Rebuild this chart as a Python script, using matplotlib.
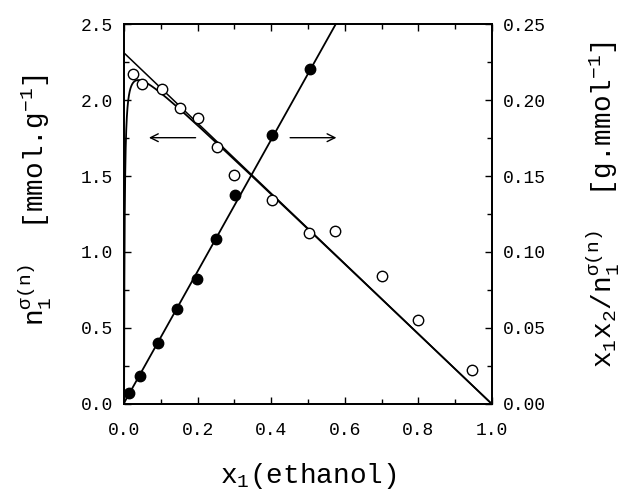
import numpy as np
import matplotlib
matplotlib.use("Agg")
import matplotlib.pyplot as plt

# ---- data ----
x_open = [0.024, 0.048, 0.102, 0.152, 0.202, 0.252, 0.300, 0.403, 0.503, 0.573, 0.700, 0.800, 0.947]
n_open = [2.17, 2.105, 2.07, 1.95, 1.88, 1.69, 1.507, 1.342, 1.127, 1.138, 0.842, 0.553, 0.224]

x_fill = [0.0136, 0.042, 0.093, 0.145, 0.197, 0.249, 0.302, 0.403, 0.505]
y_fill = [0.007, 0.0186, 0.0403, 0.0623, 0.0822, 0.1086, 0.1375, 0.177, 0.2204]

# linear fit of x1*x2/n vs x1 (intercept, slope)
fit_intercept = 0.0007
fit_slope = 0.433

xticks = [0.0, 0.2, 0.4, 0.6, 0.8, 1.0]
yticks_left = [0.0, 0.5, 1.0, 1.5, 2.0, 2.5]
yticks_right = [0.00, 0.05, 0.10, 0.15, 0.20, 0.25]

FONT = "Liberation Mono"
plt.rcParams["font.family"] = [FONT, "DejaVu Sans"]
plt.rcParams["mathtext.fontset"] = "custom"
plt.rcParams["mathtext.rm"] = FONT
plt.rcParams["mathtext.it"] = FONT
plt.rcParams["mathtext.bf"] = FONT
plt.rcParams["mathtext.sf"] = FONT
plt.rcParams["mathtext.tt"] = FONT
plt.rcParams["mathtext.cal"] = FONT
plt.rcParams["mathtext.fallback"] = "cm"

fig = plt.figure(figsize=(6.33, 4.96), dpi=100)
ax = fig.add_axes([0.196, 0.1855, 0.581, 0.7661])
ax2 = ax.twinx()

lw = 1.3
# model curves on left axis
xs = np.concatenate([[0.0], np.geomspace(1e-5, 1.0, 3000)])
n_model = xs * (1 - xs) / (fit_intercept + fit_slope * xs)
ax.plot(xs, n_model, color="black", lw=lw)
xl = np.array([0.0, 1.0])
ax.plot(xl, (1 - xl) / fit_slope, color="black", lw=1.1)

ax.plot(x_open, n_open, linestyle="none", marker="o", markersize=7.5,
        markerfacecolor="white", markeredgecolor="black", markeredgewidth=1.0)

# right axis linear plot
xr = np.array([0.0, 1.0])
ax2.plot(xr, fit_intercept + fit_slope * xr, color="black", lw=lw)
ax2.plot(x_fill, y_fill, linestyle="none", marker="o", markersize=7.5,
         markerfacecolor="black", markeredgecolor="black")

# arrows
ax.annotate("", xy=(0.06, 1.752), xytext=(0.202, 1.752),
            arrowprops=dict(arrowstyle="->", lw=1.0, mutation_scale=14, color="black"))
ax.annotate("", xy=(0.585, 1.752), xytext=(0.444, 1.752),
            arrowprops=dict(arrowstyle="->", lw=1.0, mutation_scale=14, color="black"))

ax.set_xlim(0, 1.0)
ax.set_ylim(0, 2.5)
ax2.set_ylim(0, 0.25)

ax.set_xticks(xticks)
ax.set_xticklabels([f"{v:.1f}" for v in xticks])
ax.set_yticks(yticks_left)
ax.set_yticklabels([f"{v:.1f}" for v in yticks_left])
ax2.set_yticks(yticks_right)
ax2.set_yticklabels([f"{v:.2f}" for v in yticks_right])
ax.set_xticks(np.arange(0.1, 1.0, 0.2), minor=True)
ax.set_yticks(np.arange(0.25, 2.5, 0.5), minor=True)
ax2.set_yticks(np.arange(0.025, 0.25, 0.05), minor=True)

ax.tick_params(which="both", direction="in", top=True, right=False, labelsize=13, width=1.0)
ax.tick_params(which="major", length=5, pad=8)
ax.tick_params(axis="x", which="major", pad=13)
ax.tick_params(which="minor", length=3.5)
ax2.tick_params(which="both", direction="in", labelsize=13, width=1.0)
ax2.tick_params(which="major", length=5, pad=8)
ax2.tick_params(which="minor", length=3.5)

for a in (ax, ax2):
    for s in a.spines.values():
        s.set_linewidth(1.3)

ax.set_xlabel(r"x$_1$(ethanol)", fontsize=20, labelpad=16)
ax.set_ylabel(r"n$_1^{\sigma(\mathrm{n})}$  [mmol.g$^{-1}$]", fontsize=20)
ax.yaxis.set_label_coords(-0.19, 0.537)
ax2.set_ylabel(r"x$_1$x$_2$/n$_1^{\sigma(\mathrm{n})}$  [g.mmol$^{-1}$]", fontsize=20,
               rotation=90)
ax2.yaxis.set_label_coords(1.25, 0.525)

fig.savefig("out.png", dpi=100)
